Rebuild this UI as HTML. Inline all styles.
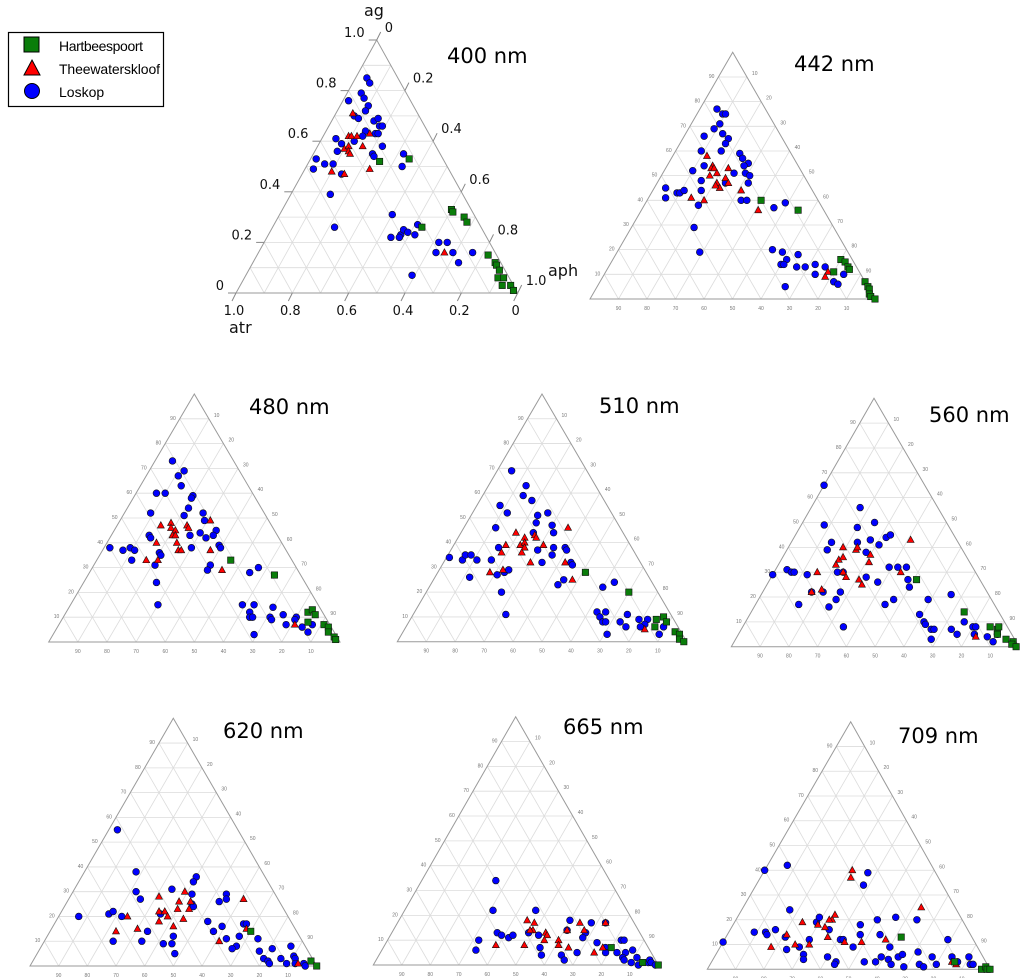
<!DOCTYPE html>
<html><head><meta charset="utf-8">
<style>
html,body{margin:0;padding:0;background:#fff;}
body{width:1024px;height:978px;overflow:hidden;position:relative;font-family:"Liberation Sans",sans-serif;}
svg{position:absolute;left:0;top:0;}
</style></head>
<body>
<svg id="chart" width="1024" height="978" viewBox="0 0 1024 978">
  <g>
    <rect x="8.5" y="32.5" width="155" height="74" fill="#fff" stroke="#000" stroke-width="1.2"/>
    <g>
      <rect x="24" y="37" width="15" height="15" fill="#0a7d0a" stroke="#000" stroke-width="1"/>
      <text x="59" y="51" font-size="14" textLength="84">Hartbeespoort</text>
    </g>
    <g>
      <polygon points="32,60 40,75 24,75" fill="#ff0000" stroke="#000" stroke-width="1"/>
      <text x="59" y="74" font-size="14" textLength="101">Theewaterskloof</text>
    </g>
    <g>
      <circle cx="32" cy="91" r="7.5" fill="#0000ff" stroke="#000" stroke-width="1"/>
      <text x="59" y="97" font-size="14">Loskop</text>
    </g>
  </g>
</svg>
<script>
// Data: each point is [ag %, aph %] (atr = 100 - ag - aph)
const h400=[[53,35],[52,25],[33,60],[32,61],[30,66],[28,68],[26,53],[15,82],[12,86],[11,87],[9,89],[6,90],[6,92],[3,93],[3,96],[1,98]];
const t400=[[71,6],[62,9],[62,10],[62,12],[63,16],[57,10],[58,11],[56,12],[55,13],[58,16],[48,10],[47,15],[49,23],[16,66]];
const l400=[[85,4],[83,6],[79,5],[77,7],[76,2],[74,10],[72,10],[70,7],[69,9],[68,15],[69,16],[66,18],[66,19],[64,14],[63,18],[63,19],[62,14],[61,5],[59,8],[60,12],[58,23],[56,8],[55,21],[54,22],[55,32],[50,34],[53,2],[51,6],[51,9],[49,3],[47,14],[39,14],[26,22],[31,40],[22,44],[23,47],[25,47],[24,49],[27,51],[23,52],[22,47],[20,62],[20,65],[16,63],[16,69],[12,73],[16,76],[7,59]];
const h442=[[40,40],[36,55],[16,80],[15,82],[13,84],[12,85],[11,80],[7,93],[5,95],[4,96],[2,97],[1,98],[0,100]];
const t442=[[58,12],[54,16],[53,16],[53,17],[51,19],[53,22],[50,17],[49,23],[47,21],[45,23],[46,21],[47,25],[44,31],[41,15],[40,20],[36,41],[11,78],[9,78]];
const l442=[[77,6],[75,9],[75,10],[71,10],[69,9],[67,13],[66,7],[65,16],[63,16],[60,9],[60,16],[59,23],[57,25],[55,28],[54,27],[54,13],[52,10],[51,25],[51,29],[50,31],[48,15],[47,24],[47,32],[45,4],[41,6],[43,9],[43,10],[44,11],[44,17],[38,19],[40,33],[40,35],[37,46],[39,49],[29,22],[19,29],[20,54],[19,58],[18,64],[16,61],[14,60],[14,61],[13,66],[13,69],[14,72],[13,76],[10,74],[7,82],[6,84],[10,84],[5,66]];
const h480=[[33,46],[27,64],[12,83],[13,84],[11,86],[8,85],[7,91],[6,93],[4,94],[2,97],[1,98]];
const t480=[[47,15],[48,18],[46,19],[45,21],[43,21],[43,22],[40,24],[47,24],[46,25],[49,31],[40,17],[37,26],[37,27],[37,37],[33,17],[33,21],[29,45],[7,81]];
const l480=[[73,6],[69,12],[67,11],[63,14],[60,7],[60,10],[59,20],[58,20],[54,21],[52,9],[51,21],[52,27],[49,29],[45,35],[43,13],[42,14],[44,30],[43,27],[42,33],[43,35],[38,30],[39,39],[38,40],[38,2],[37,7],[38,9],[37,11],[33,12],[36,20],[35,21],[31,21],[31,40],[29,40],[28,55],[30,57],[24,25],[15,30],[15,59],[15,63],[14,70],[12,63],[10,64],[10,65],[10,71],[9,72],[11,75],[10,80],[9,80],[7,78],[6,84],[4,87],[7,87],[3,69]];
const h510=[[28,51],[20,70],[9,85],[10,87],[8,89],[6,86],[4,94],[3,96],[1,97],[0,99]];
const t510=[[44,19],[42,23],[43,26],[42,27],[46,36],[39,18],[39,23],[40,24],[38,25],[36,25],[39,31],[36,18],[32,30],[32,42],[28,18],[29,22],[25,48],[5,83]];
const l510=[[69,5],[63,13],[59,14],[57,18],[55,8],[52,12],[51,23],[52,26],[46,11],[48,24],[47,30],[44,32],[44,25],[38,16],[37,30],[38,35],[38,39],[37,40],[35,36],[34,1],[33,6],[35,6],[35,8],[33,11],[33,16],[32,34],[32,44],[31,45],[27,21],[28,23],[29,24],[26,12],[20,26],[11,32],[25,45],[23,44],[22,60],[24,63],[12,63],[10,65],[12,66],[8,67],[8,68],[8,73],[6,76],[11,74],[9,79],[9,82],[7,82],[6,81],[6,89],[3,89],[3,71]];
const h560=[[27,51],[14,74],[8,86],[7,89],[8,89],[5,90],[3,94],[2,97],[1,97],[0,99]];
const t560=[[40,19],[39,24],[40,24],[43,41],[37,30],[34,31],[35,20],[36,21],[33,20],[30,15],[30,24],[28,26],[27,31],[25,33],[30,44],[23,20],[22,17],[4,83]];
const l560=[[65,0],[56,17],[49,8],[48,20],[50,25],[42,14],[39,14],[42,23],[43,27],[41,31],[44,32],[45,33],[38,28],[29,0],[31,4],[30,6],[30,7],[29,12],[30,22],[30,24],[28,33],[26,38],[32,39],[32,42],[32,45],[27,48],[24,50],[22,17],[22,21],[22,27],[17,15],[16,26],[19,27],[8,35],[17,45],[19,47],[19,59],[21,66],[13,59],[10,62],[9,63],[7,66],[7,67],[3,68],[7,73],[5,76],[10,76],[8,80],[8,81],[5,82],[4,87],[2,90],[5,90]];
const h620=[[14,70],[2,97],[0,100]];
const t620=[[28,31],[30,39],[26,39],[26,43],[23,44],[27,61],[22,34],[22,36],[23,40],[20,38],[20,24],[18,36],[19,44],[16,42],[14,23],[15,30],[15,68],[10,61],[1,93]];
const l620=[[55,3],[38,18],[36,40],[34,40],[30,22],[27,25],[31,34],[29,42],[25,44],[24,45],[26,53],[29,54],[27,55],[20,7],[21,17],[22,18],[20,22],[21,35],[18,53],[16,59],[14,57],[17,66],[17,67],[14,34],[12,44],[10,34],[10,24],[9,42],[9,45],[5,48],[11,63],[12,67],[8,68],[7,67],[11,74],[6,77],[7,81],[8,87],[3,80],[2,82],[1,83],[3,86],[1,89],[4,90],[3,91],[1,92],[1,95],[0,96]];
const h665=[[7,80],[1,94],[0,100]];
const t665=[[18,45],[17,48],[14,49],[14,48],[17,64],[17,73],[14,61],[14,67],[13,54],[12,55],[10,55],[10,60],[8,61],[8,39],[8,49],[7,65],[7,77],[5,75]];
const l665=[[34,26],[22,31],[22,46],[18,60],[17,68],[17,73],[14,61],[13,68],[11,68],[13,37],[12,39],[11,42],[12,43],[13,48],[12,52],[10,32],[6,33],[7,55],[4,57],[4,64],[2,66],[5,69],[9,74],[7,78],[5,79],[5,83],[10,82],[10,83],[5,86],[6,88],[3,86],[2,87],[1,90],[3,91],[0,93],[1,96],[2,96],[1,97],[0,99]];
const h709=[[13,62],[3,86],[0,97],[1,98],[0,99],[0,100]];
const t709=[[40,31],[37,32],[25,63],[22,34],[20,34],[20,33],[19,24],[18,30],[17,33],[13,36],[14,21],[9,18],[10,26],[10,31],[11,43],[11,49],[12,57],[2,87],[3,85]];
const l709=[[11,0],[40,0],[42,7],[39,37],[34,38],[24,17],[15,9],[15,13],[14,14],[16,16],[13,21],[8,24],[9,28],[6,31],[4,32],[12,30],[19,29],[21,29],[16,35],[5,40],[3,44],[2,44],[12,41],[12,42],[9,47],[18,45],[14,47],[20,50],[21,56],[20,64],[14,54],[9,60],[3,54],[3,58],[5,59],[4,62],[2,64],[5,65],[6,66],[1,69],[7,71],[2,74],[1,76],[5,77],[2,80],[12,79],[5,84],[3,87],[5,90],[2,92],[2,93]];
const panelTitles=["400 nm","442 nm","480 nm","510 nm","560 nm","620 nm","665 nm","709 nm"];
const axisTickValues=[0,0.2,0.4,0.6,0.8,1.0];
const smallTicks=[10,20,30,40,50,60,70,80,90];

const NS="http://www.w3.org/2000/svg";
const svg=document.getElementById('chart');
function mk(tag,attrs,parent){const e=document.createElementNS(NS,tag);for(const k in attrs)e.setAttribute(k,attrs[k]);(parent||svg).appendChild(e);return e;}

const panels=[
 {apex:[376.7,40],left:[236,293],right:[517.7,293],title:[447,63],big:true,h:h400,t:t400,l:l400},
 {apex:[732.7,52.3],left:[590,299],right:[875,299],title:[794,71],h:h442,t:t442,l:l442},
 {apex:[194.3,394],left:[48.7,642],right:[340,642],title:[249,414],h:h480,t:t480,l:l480},
 {apex:[542,394],left:[397.3,641.7],right:[686.7,641.7],title:[599,413],h:h510,t:t510,l:l510},
 {apex:[874,398.3],left:[731.3,646.7],right:[1019,646.7],title:[929,422],h:h560,t:t560,l:l560},
 {apex:[173.3,718.3],left:[30,966],right:[316.7,966],title:[223,738],h:h620,t:t620,l:l620},
 {apex:[515.7,716.7],left:[373.3,965],right:[658.3,965],title:[563,734],h:h665,t:t665,l:l665},
 {apex:[850.7,721.7],left:[707.3,969.3],right:[990,969.3],title:[898,743],h:h709,t:t709,l:l709}
];

panels.forEach((p,i)=>{
  const g=mk('g',{});
  
  
  const P=(ag,aph)=>[p.left[0]+aph*(p.right[0]-p.left[0])+ag*(p.apex[0]-p.left[0]),
                     p.left[1]+aph*(p.right[1]-p.left[1])+ag*(p.apex[1]-p.left[1])];
  const grid=mk('g',{stroke:'#dcdcdc','stroke-width':0.8,fill:'none'},g);
  
  
  for(let k=1;k<=9;k++){
    const f=k/10;
    let a=P(f,0),b=P(f,1-f);mk('line',{x1:a[0],y1:a[1],x2:b[0],y2:b[1]},grid);
    a=P(0,f);b=P(1-f,f);mk('line',{x1:a[0],y1:a[1],x2:b[0],y2:b[1]},grid);
    a=P(0,1-f);b=P(1-f,0);mk('line',{x1:a[0],y1:a[1],x2:b[0],y2:b[1]},grid);
  }
  const tri=mk('polygon',{points:[p.apex,p.left,p.right].map(q=>q.join(',')).join(' '),fill:'none',stroke:'#9a9a9a','stroke-width':1},g);
  
  
  const tk=mk('g',{},g);
  
  
  if(p.big){
    axisTickValues.forEach(v=>{
      const lbl=v===0?'0':v.toFixed(1);
      let a=P(v,0);
      mk('line',{x1:a[0]-8,y1:a[1],x2:a[0],y2:a[1],stroke:'#888','stroke-width':1},tk);
      let t=mk('text',{x:a[0]-12,y:a[1]-3,'font-size':13,'text-anchor':'end',fill:'#111','font-family':'DejaVu Sans, sans-serif'},tk);t.textContent=lbl;
      a=P(1-v,v);
      mk('line',{x1:a[0],y1:a[1],x2:a[0]+4,y2:a[1]-8,stroke:'#888','stroke-width':1},tk);
      t=mk('text',{x:a[0]+8,y:a[1]-8,'font-size':13,fill:'#111','font-family':'DejaVu Sans, sans-serif'},tk);t.textContent=lbl;
      a=P(0,1-v);
      mk('line',{x1:a[0],y1:a[1],x2:a[0]-4,y2:a[1]+8,stroke:'#888','stroke-width':1},tk);
      t=mk('text',{x:a[0]-2,y:a[1]+22,'font-size':13,'text-anchor':'middle',fill:'#111','font-family':'DejaVu Sans, sans-serif'},tk);t.textContent=lbl;
    });
    let t=mk('text',{x:364,y:16,'font-size':16,fill:'#111','font-family':'DejaVu Sans, sans-serif'},g);t.textContent='ag';
    
    t=mk('text',{x:548,y:276,'font-size':16,fill:'#111','font-family':'DejaVu Sans, sans-serif'},g);t.textContent='aph';
    
    t=mk('text',{x:229,y:333,'font-size':16,fill:'#111','font-family':'DejaVu Sans, sans-serif'},g);t.textContent='atr';
    
  } else {
    smallTicks.forEach(v=>{
      let a=P(v/100,0);
      let t=mk('text',{x:a[0]-4,y:a[1]+1,'font-size':5,'text-anchor':'end',fill:'#777'},tk);t.textContent=v;
      a=P(1-v/100,v/100);
      t=mk('text',{x:a[0]+5,y:a[1]-2,'font-size':5,fill:'#777'},tk);t.textContent=v;
      a=P(0,v/100);
      t=mk('text',{x:a[0],y:a[1]+11,'font-size':5,'text-anchor':'middle',fill:'#777'},tk);t.textContent=100-v;
    });
  }
  const title=mk('text',{x:p.title[0],y:p.title[1],'font-size':21,fill:'#000','font-family':'DejaVu Sans, sans-serif'},g);
  title.textContent=panelTitles[i];
  
  
  const sl=mk('g',{},g);
  
  
  p.l.forEach(d=>{const q=P(d[0]/100,d[1]/100);
    const c=mk('circle',{cx:q[0],cy:q[1],r:3.4,fill:'#0000ff',stroke:'#111','stroke-width':0.6},sl);
    
    });
  const st=mk('g',{},g);
  
  
  p.t.forEach(d=>{const q=P(d[0]/100,d[1]/100);
    const c=mk('polygon',{points:`${q[0]},${q[1]-3.8} ${q[0]+3.5},${q[1]+2.6} ${q[0]-3.5},${q[1]+2.6}`,fill:'#ff0000',stroke:'#111','stroke-width':0.6},st);
    
    });
  const sh=mk('g',{},g);
  
  
  p.h.forEach(d=>{const q=P(d[0]/100,d[1]/100);
    const c=mk('rect',{x:q[0]-3.2,y:q[1]-3.2,width:6.4,height:6.4,fill:'#0a7d0a',stroke:'#111','stroke-width':0.6},sh);
    
    });
});
</script>
</body></html>
